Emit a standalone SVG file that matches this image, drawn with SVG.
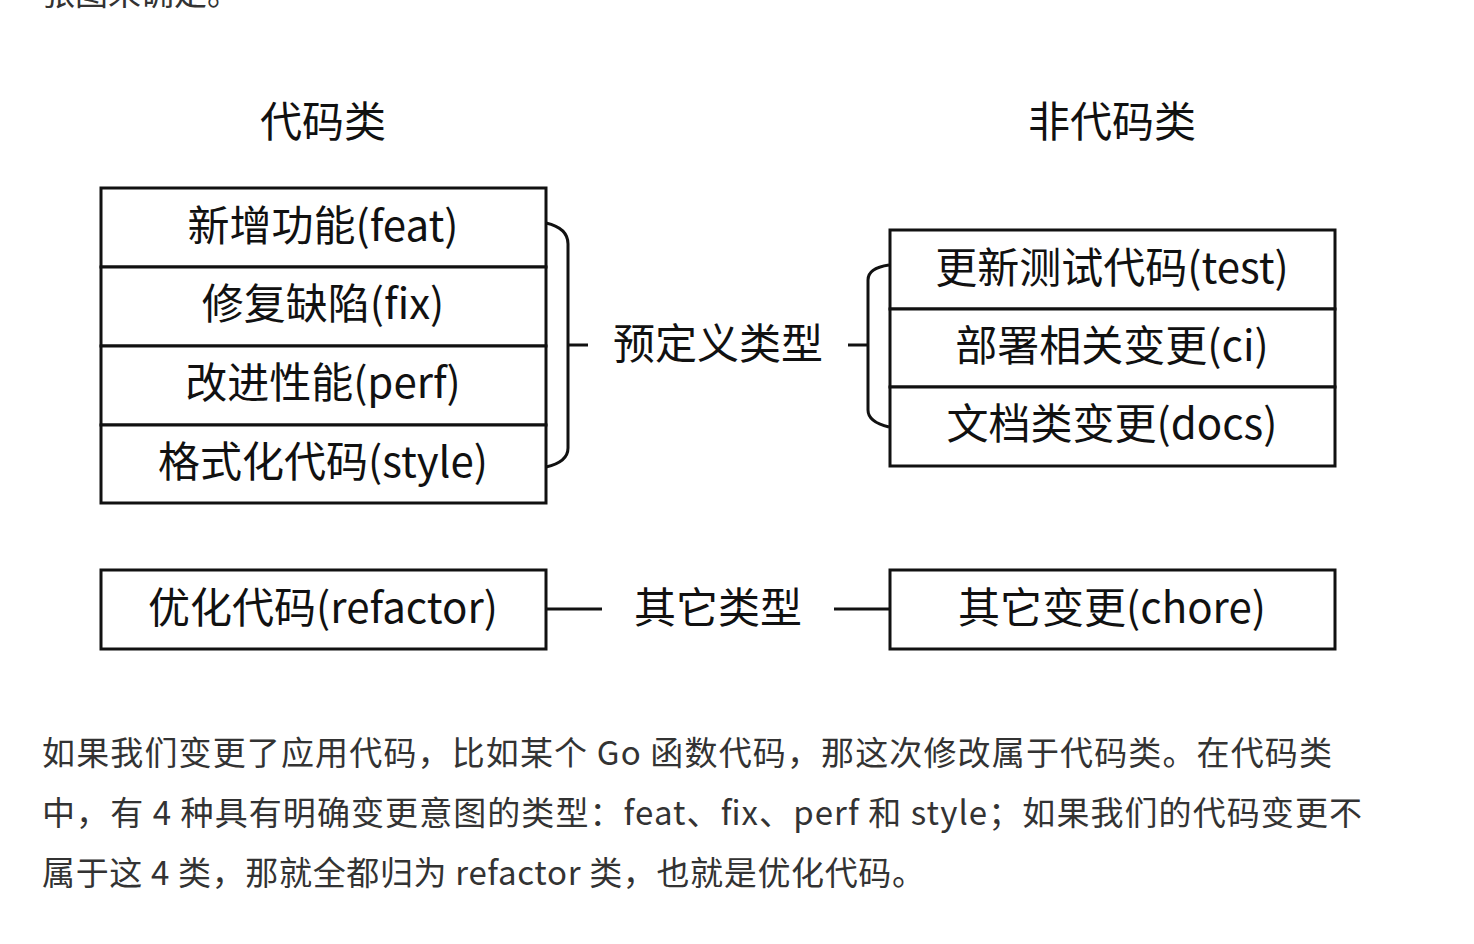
<svg xmlns="http://www.w3.org/2000/svg" width="1474" height="944" viewBox="0 0 1474 944">
<style>
.box{fill:#fff;stroke:#111;stroke-width:3}
.ln{fill:none;stroke:#111;stroke-width:3}
.t{font-family:"Noto Sans CJK SC","Noto Sans",sans-serif;font-size:42px;fill:#111;text-anchor:middle}
.p{font-family:"Noto Sans CJK SC","Noto Sans",sans-serif;font-size:33px;fill:#333}
</style>
<rect width="1474" height="944" fill="#fff"/>
<text class="p" x="42" y="5">张图来确定。</text>
<g id="hdr-code"><text class="t" x="323" y="137">代码类</text></g>
<g id="hdr-noncode"><text class="t" x="1112" y="137">非代码类</text></g>
<g id="left-group">
<rect class="box" x="101" y="188" width="445" height="79"/>
<text class="t" x="323" y="241">新增功能(feat)</text>
<rect class="box" x="101" y="267" width="445" height="79"/>
<text class="t" x="323" y="319">修复缺陷(fix)</text>
<rect class="box" x="101" y="346" width="445" height="79"/>
<text class="t" x="323" y="398">改进性能(perf)</text>
<rect class="box" x="101" y="425" width="445" height="78"/>
<text class="t" x="323" y="477">格式化代码(style)</text>
</g>
<g id="right-group">
<rect class="box" x="890" y="230" width="445" height="79"/>
<text class="t" x="1112" y="283">更新测试代码(test)</text>
<rect class="box" x="890" y="309" width="445" height="78"/>
<text class="t" x="1112" y="361">部署相关变更(ci)</text>
<rect class="box" x="890" y="387" width="445" height="79"/>
<text class="t" x="1112" y="439">文档类变更(docs)</text>
</g>
<g id="refactor"><rect class="box" x="101" y="570" width="445" height="79"/>
<text class="t" x="323" y="623">优化代码(refactor)</text></g>
<g id="chore"><rect class="box" x="890" y="570" width="445" height="79"/>
<text class="t" x="1112" y="623">其它变更(chore)</text></g>
<g id="predef"><text class="t" x="718" y="359">预定义类型</text></g>
<g id="other"><text class="t" x="718" y="623">其它类型</text></g>
<g id="connectors">
<path class="ln" d="M546,223 Q568,228 568,244 L568,448 Q568,462 546,467"/>
<path class="ln" d="M568,345 H588"/>
<path class="ln" d="M889,265 Q868,268 868,280 L868,410 Q868,422 889,427"/>
<path class="ln" d="M848,345 H868"/>
<path class="ln" d="M546,609 H602"/>
<path class="ln" d="M834,609 H890"/>
</g>
<text class="p" x="42" y="765" textLength="1290" lengthAdjust="spacing">如果我们变更了应用代码，比如某个 Go 函数代码，那这次修改属于代码类。在代码类</text>
<text class="p" x="42" y="825" textLength="1320" lengthAdjust="spacing">中，有 4 种具有明确变更意图的类型：feat、fix、perf 和 style；如果我们的代码变更不</text>
<text class="p" x="42" y="885" textLength="883" lengthAdjust="spacing">属于这 4 类，那就全都归为 refactor 类，也就是优化代码。</text>
</svg>
